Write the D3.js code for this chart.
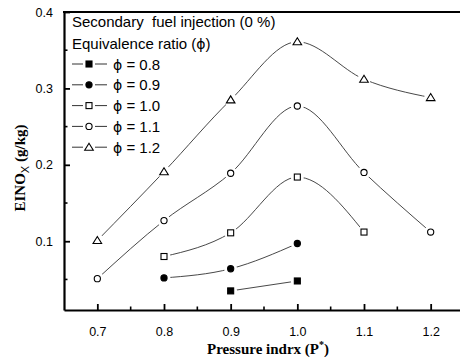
<!DOCTYPE html>
<html><head><meta charset="utf-8">
<script src="https://cdn.jsdelivr.net/npm/d3@7"></script>
<style>body{margin:0;background:#fff}svg{display:block}</style>
</head><body><svg id="c" width="460" height="363"></svg>
<script>
const xTicks = [0.7, 0.8, 0.9, 1.0, 1.1, 1.2];
const xMinor = [0.75, 0.85, 0.95, 1.05, 1.15];
const yTicks = [0.1, 0.2, 0.3, 0.4];
const yMinor = [0.05, 0.15, 0.25, 0.35];
const phiSym = "\u03D5";
const phiValues = ["0.8", "0.9", "1.0", "1.1", "1.2"];
const symbols = ["fsquare", "fcircle", "square", "circle", "triangle"];
const p08 = [0.9, 1.0];
const v08 = [0.035, 0.048];
const p09 = [0.8, 0.9, 1.0];
const v09 = [0.052, 0.064, 0.097];
const p10 = [0.8, 0.9, 1.0, 1.1];
const v10 = [0.080, 0.111, 0.184, 0.112];
const p11 = [0.7, 0.8, 0.9, 1.0, 1.1, 1.2];
const v11 = [0.051, 0.127, 0.189, 0.277, 0.190, 0.112];
const p12 = [0.7, 0.8, 0.9, 1.0, 1.1, 1.2];
const v12 = [0.101, 0.191, 0.285, 0.361, 0.312, 0.288];

const series = [[p08, v08], [p09, v09], [p10, v10], [p11, v11], [p12, v12]].map((s, i) => ({
  sym: symbols[i], label: phiValues[i],
  pts: s[0].map((p, j) => ({x: p, y: s[1][j]}))
}));

const svg = d3.select("#c");
const L = 64, R = 464, T = 12, B = 310;
const x = d3.scaleLinear().domain([0.65, 1.25]).range([L, R]);
const y = d3.scaleLinear().domain([0.01, 0.4]).range([B, T]);

function drawSym(g, type, cx, cy) {
  if (type === "fsquare" || type === "square") {
    g.append("rect").attr("x", cx - 3).attr("y", cy - 3).attr("width", 6).attr("height", 6)
      .attr("fill", type === "fsquare" ? "#000" : "#fff").attr("stroke", "#000").attr("stroke-width", 1.1);
  } else if (type === "fcircle" || type === "circle") {
    g.append("circle").attr("cx", cx).attr("cy", cy).attr("r", 3.1)
      .attr("fill", type === "fcircle" ? "#000" : "#fff").attr("stroke", "#000").attr("stroke-width", 1.1);
  } else {
    g.append("path").attr("d", `M${cx},${cy - 4}L${cx + 4.3},${cy + 3}L${cx - 4.3},${cy + 3}Z`)
      .attr("fill", "#fff").attr("stroke", "#000").attr("stroke-width", 1.1);
  }
}

// curves
const line = d3.line().x(d => x(d.x)).y(d => y(d.y)).curve(d3.curveMonotoneX);
const plot = svg.append("g");
series.forEach(s => {
  plot.append("path").attr("d", line(s.pts)).attr("fill", "none")
    .attr("stroke", "#333").attr("stroke-width", 0.9);
});
series.forEach(s => {
  s.pts.forEach(p => {
    plot.append("circle").attr("cx", x(p.x)).attr("cy", y(p.y)).attr("r", 6.5).attr("fill", "#fff");
  });
});
series.forEach(s => {
  s.pts.forEach(p => drawSym(plot, s.sym, x(p.x), y(p.y)));
});

// axes
const ax = svg.append("g").attr("transform", `translate(0,${B})`)
  .call(d3.axisBottom(x).tickValues(xTicks).tickSize(-6).tickSizeOuter(0).tickPadding(17).tickFormat(d3.format(".1f")));
const ay = svg.append("g").attr("transform", `translate(${L},0)`)
  .call(d3.axisLeft(y).tickValues(yTicks).tickSize(-6).tickSizeOuter(0).tickPadding(11).tickFormat(d3.format(".1f")));
[ax, ay].forEach(a => {
  a.select(".domain").attr("stroke", "#000").attr("stroke-width", 2.2);
  a.selectAll(".tick line").attr("stroke", "#000").attr("stroke-width", 1.8);
  a.selectAll("text").attr("font-family", "Liberation Sans, Arial, sans-serif").attr("font-size", 12.5).attr("fill", "#000");
});
svg.append("g").selectAll("line").data(xMinor).join("line")
  .attr("x1", d => x(d)).attr("x2", d => x(d)).attr("y1", B).attr("y2", B - 3.5)
  .attr("stroke", "#000").attr("stroke-width", 1.6);
svg.append("g").selectAll("line").data(yMinor).join("line")
  .attr("x1", L).attr("x2", L + 3.5).attr("y1", d => y(d)).attr("y2", d => y(d))
  .attr("stroke", "#000").attr("stroke-width", 1.6);
svg.append("line").attr("x1", L - 1).attr("x2", 460).attr("y1", T).attr("y2", T)
  .attr("stroke", "#000").attr("stroke-width", 2.2);

// legend
const lg = svg.append("g").attr("font-family", "Liberation Sans, Arial, sans-serif").attr("font-size", 15).attr("fill", "#000");
lg.append("text").attr("x", 72).attr("y", 27).attr("xml:space", "preserve").text("Secondary  fuel injection (0 %)");
const eq = lg.append("text").attr("x", 72).attr("y", 49);
eq.append("tspan").text("Equivalence ratio (");
eq.append("tspan").attr("font-family", "DejaVu Sans").attr("font-size", 14).text(phiSym);
eq.append("tspan").text(")");
series.forEach((s, i) => {
  const cy = 64 + i * 20.8;
  lg.append("line").attr("x1", 72).attr("x2", 83).attr("y1", cy).attr("y2", cy).attr("stroke", "#333").attr("stroke-width", 1);
  lg.append("line").attr("x1", 95).attr("x2", 107).attr("y1", cy).attr("y2", cy).attr("stroke", "#333").attr("stroke-width", 1);
  drawSym(lg, s.sym, 89, cy);
  const t = lg.append("text").attr("x", 113).attr("y", cy + 5.5);
  t.append("tspan").attr("font-family", "DejaVu Sans").attr("font-size", 14).text(phiSym);
  t.append("tspan").text(" = " + s.label);
});

// axis titles
const xt = svg.append("text").attr("x", 268).attr("y", 354).attr("text-anchor", "middle")
  .attr("font-family", "Liberation Serif, Times New Roman, serif").attr("font-weight", "bold").attr("font-size", 15);
xt.append("tspan").text("Pressure indrx (P");
xt.append("tspan").attr("dy", -6).attr("font-size", 10).text("*");
xt.append("tspan").attr("dy", 6).text(")");

const yt = svg.append("text").attr("transform", "translate(25,168) rotate(-90)").attr("text-anchor", "middle")
  .attr("font-family", "Liberation Serif, Times New Roman, serif").attr("font-weight", "bold").attr("font-size", 15);
yt.append("tspan").text("EINO");
yt.append("tspan").attr("dy", 4).attr("font-size", 11).attr("font-weight", "normal")
  .attr("font-family", "Liberation Sans, Arial, sans-serif").text("X");
yt.append("tspan").attr("dy", -4).text(" (g/kg)");
</script></body></html>
